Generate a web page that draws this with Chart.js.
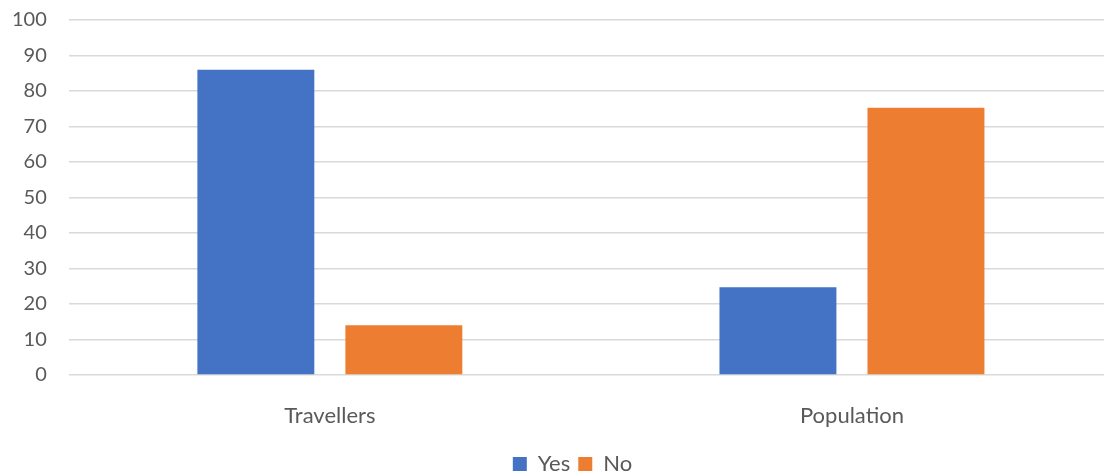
<!DOCTYPE html>
<html>
<head>
<meta charset="utf-8">
<script src="https://cdn.jsdelivr.net/npm/chart.js@4"></script>
<style>
  html, body { margin: 0; padding: 0; background: #fff; }
  #clip { width: 1104px; height: 472px; overflow: hidden; }
  #wrap { width: 1145px; height: 472px; position: relative; }
</style>
</head>
<body>
<div id="clip"><div id="wrap"><canvas id="chartBars"></canvas></div></div>
<script>
const groups = ['Travellers', 'Population'];
const yesValues = [86, 24.7];
const noValues = [14, 75.3];
const yTicks = [0, 10, 20, 30, 40, 50, 60, 70, 80, 90, 100];

// legend sits a bit right of the layout centre in the original
const shiftLegend = {
    id: 'shiftLegend',
    afterLayout(chart) {
        chart.legend.left += 21;
        chart.legend.right += 21;
    }
};

drawChart();
function drawChart() {
    const ctx = document.getElementById('chartBars').getContext('2d');
    const textColor = '#595959';
    const family = 'Lato, "Open Sans", sans-serif';
    new Chart(ctx, {
        type: 'bar',
        data: {
            labels: groups,
            datasets: [{
                label: 'Yes',
                data: yesValues,
                backgroundColor: '#4472c4',
                categoryPercentage: 0.567,
                barPercentage: 0.79
            }, {
                label: 'No',
                data: noValues,
                backgroundColor: '#ed7d31',
                categoryPercentage: 0.567,
                barPercentage: 0.79
            }]
        },
        plugins: [shiftLegend],
        options: {
            responsive: true,
            maintainAspectRatio: false,
            animation: false,
            // chart runs past the right edge, like the cropped original
            layout: { padding: { top: 20, right: 32, bottom: -13, left: -10 } },
            plugins: {
                tooltip: { enabled: false },
                legend: {
                    position: 'bottom',
                    labels: {
                        color: textColor,
                        font: { family: family, size: 22 },
                        boxWidth: 14,
                        boxHeight: 14,
                        padding: 8
                    }
                }
            },
            scales: {
                x: {
                    grid: { display: false, drawTicks: false },
                    border: { display: false },
                    ticks: { color: textColor, font: { family: family, size: 22 }, padding: 28 },
                    afterFit: axis => { axis.height = 70; }
                },
                y: {
                    min: 0,
                    max: 100,
                    afterBuildTicks: axis => { axis.ticks = yTicks.map(v => ({ value: v })); },
                    afterFit: axis => { axis.paddingTop = 0; axis.paddingBottom = 0; },
                    grid: { color: '#d9d9d9', lineWidth: 1.5, drawTicks: false },
                    border: { display: false },
                    ticks: { color: textColor, font: { family: family, size: 20 }, padding: 22 }
                }
            }
        }
    });
}
</script>
</body>
</html>
